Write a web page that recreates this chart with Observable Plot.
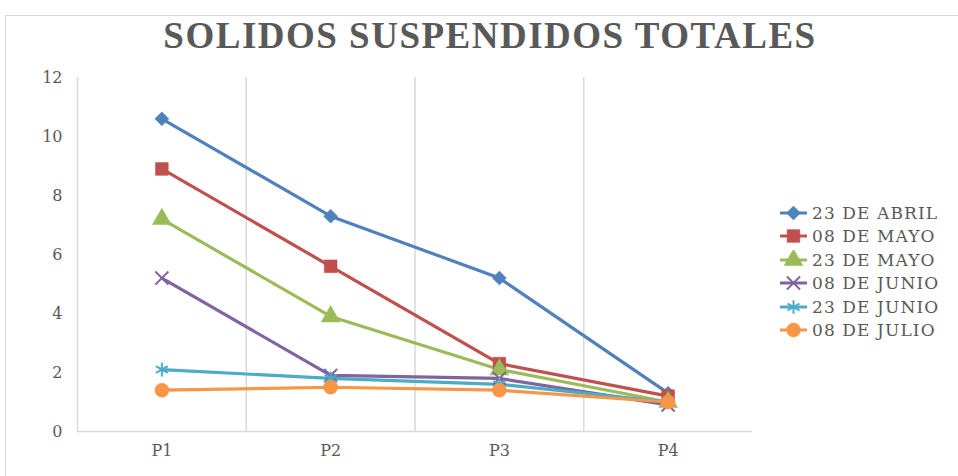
<!DOCTYPE html>
<html>
<head>
<meta charset="utf-8">
<script src="https://cdn.jsdelivr.net/npm/d3@7"></script>
<script src="https://cdn.jsdelivr.net/npm/@observablehq/plot@0.6"></script>
<style>
  html, body { margin: 0; padding: 0; background: #fff; }
  #wrap { position: relative; width: 958px; height: 476px; overflow: hidden; }
  #frame { position: absolute; left: 5px; top: 15px; width: 1000px; height: 500px; border: 1px solid #d9d9d9; box-sizing: border-box; }
  #title { position: absolute; left: 0; width: 980px; top: 14px; text-align: center;
    font-family: "Liberation Serif", serif; font-weight: bold; font-size: 37px; color: #595959; letter-spacing: 1.5px; }
  #chart { position: absolute; left: 0; top: 0; }
  #legend { position: absolute; left: 779px; top: 201px; font-family: "DejaVu Serif", serif; font-size: 17px; color: #595959; letter-spacing: 1.1px; }
  .item { height: 23.5px; display: flex; align-items: center; white-space: nowrap; }
  .item svg { margin-right: 3px; }
</style>
</head>
<body>
<div id="wrap">
  <div id="frame"></div>
  <div id="chart"></div>
  <div id="title">SOLIDOS SUSPENDIDOS TOTALES</div>
  <div id="legend"></div>
</div>
<script>
const categories = ["P1", "P2", "P3", "P4"];
const seriesNames = ["23 DE ABRIL", "08 DE MAYO", "23 DE MAYO", "08 DE JUNIO", "23 DE JUNIO", "08 DE JULIO"];
const abril23 = [10.6, 7.3, 5.2, 1.3];
const mayo08  = [8.9, 5.6, 2.3, 1.2];
const mayo23  = [7.2, 3.9, 2.1, 1.0];
const junio08 = [5.2, 1.9, 1.8, 0.9];
const junio23 = [2.1, 1.8, 1.6, 1.0];
const julio08 = [1.4, 1.5, 1.4, 1.0];
const yTicks = [0, 2, 4, 6, 8, 10, 12];

const seriesValues = [abril23, mayo08, mayo23, junio08, junio23, julio08];
const colors = ["#4F81BD", "#C0504D", "#9BBB59", "#8064A2", "#4BACC6", "#F79646"];
const symbols = ["diamond2", "square", "triangle", "times", "asterisk", "circle"];
const filled = [true, true, true, false, false, true];
const radii = [6.3, 7.2, 7, 6, 6.5, 7];

const data = seriesNames.flatMap((s, si) =>
  categories.map((c, ci) => ({ series: s, si, cat: c, xi: ci + 0.5, value: seriesValues[si][ci] })));

const marks = [
  Plot.ruleX(d3.range(1, categories.length), { stroke: "#d9d9d9", strokeWidth: 1.5 }),
  Plot.ruleX([0], { stroke: "#d9d9d9", strokeWidth: 1.5 }),
  Plot.ruleY([0], { stroke: "#d9d9d9", strokeWidth: 1.5 }),
];
seriesNames.forEach((s, si) => {
  const d = data.filter(r => r.si === si);
  marks.push(Plot.line(d, { x: "xi", y: "value", stroke: colors[si], strokeWidth: 3.2 }));
});
seriesNames.forEach((s, si) => {
  const d = data.filter(r => r.si === si);
  marks.push(Plot.dot(d, {
    x: "xi", y: "value", symbol: () => symbols[si], r: radii[si],
    fill: filled[si] ? colors[si] : "none",
    stroke: colors[si], strokeWidth: filled[si] ? 0.5 : 2
  }));
});

const chart = Plot.plot({
  width: 958,
  height: 476,
  marginLeft: 77,
  marginRight: 206,
  marginTop: 77,
  marginBottom: 45,
  style: { fontFamily: "DejaVu Serif, serif", fontSize: "16px", color: "#595959", background: "transparent" },
  symbol: { type: "identity" },
  x: {
    domain: [0, categories.length],
    ticks: categories.map((c, i) => i + 0.5),
    tickFormat: v => categories[Math.round(v - 0.5)],
    tickSize: 0, tickPadding: 13, label: null
  },
  y: {
    domain: [0, 12],
    ticks: yTicks,
    tickSize: 0, tickPadding: 15, label: null
  },
  marks
});
document.getElementById("chart").appendChild(chart);

// legend
const legend = d3.select("#legend");
const symMap = { diamond2: d3.symbolDiamond2, square: d3.symbolSquare, triangle: d3.symbolTriangle,
  times: d3.symbolTimes, asterisk: d3.symbolAsterisk, circle: d3.symbolCircle };
seriesNames.forEach((s, si) => {
  const item = legend.append("div").attr("class", "item");
  const svg = item.append("svg").attr("width", 30).attr("height", 20);
  svg.append("line").attr("x1", 1).attr("x2", 28).attr("y1", 10).attr("y2", 10)
    .attr("stroke", colors[si]).attr("stroke-width", 3);
  svg.append("path").attr("transform", "translate(14.5,10)")
    .attr("d", d3.symbol(symMap[symbols[si]], Math.PI * radii[si] * radii[si])())
    .attr("fill", filled[si] ? colors[si] : "none")
    .attr("stroke", colors[si]).attr("stroke-width", filled[si] ? 0.5 : 2);
  item.append("span").text(s);
});
</script>
</body>
</html>
